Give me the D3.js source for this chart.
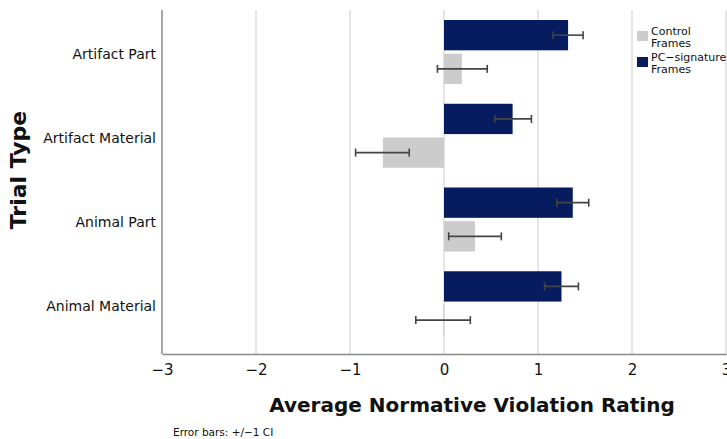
<!DOCTYPE html>
<html>
<head>
<meta charset="utf-8">
<script src="https://cdn.jsdelivr.net/npm/d3@7"></script>
<style>
  body { margin: 0; background: #fff; }
  text { font-family: "DejaVu Sans", sans-serif; fill: #111; }
</style>
</head>
<body>
<div id="chart"></div>
<script>
const categories = ['Artifact Part', 'Artifact Material', 'Animal Part', 'Animal Material'];
const series = ['PC-signature Frames', 'Control Frames'];
const pcMeans = [1.32, 0.73, 1.37, 1.25];
const pcLow = [1.16, 0.54, 1.20, 1.07];
const pcHigh = [1.48, 0.93, 1.54, 1.43];
const ctrlMeans = [0.19, -0.65, 0.33, -0.01];
const ctrlLow = [-0.07, -0.94, 0.05, -0.30];
const ctrlHigh = [0.46, -0.37, 0.61, 0.28];
const xTicks = [-3, -2, -1, 0, 1, 2, 3];

const colors = { 'PC-signature Frames': '#061c5e', 'Control Frames': '#cccccc' };

const rows = [];
categories.forEach((c, i) => {
  rows.push({ cat: c, s: series[0], v: pcMeans[i], lo: pcLow[i], hi: pcHigh[i] });
  rows.push({ cat: c, s: series[1], v: ctrlMeans[i], lo: ctrlLow[i], hi: ctrlHigh[i] });
});

const width = 727, height = 439;
const margin = { top: 10, right: 1, bottom: 85, left: 162 };

const svg = d3.select('#chart').append('svg')
  .attr('width', width)
  .attr('height', height);

const x = d3.scaleLinear().domain([-3, 3]).range([margin.left, width - margin.right]);
const y = d3.scaleBand().domain(categories).range([margin.top, margin.top + 335]);
const yInner = d3.scaleBand().domain(series).range([10, 74]).paddingInner(0.1);
const axisY = height - margin.bottom;

/* gridlines */
svg.append('g')
  .selectAll('line')
  .data(xTicks.filter((d) => d > -3))
  .join('line')
  .attr('x1', (d) => x(d)).attr('x2', (d) => x(d))
  .attr('y1', margin.top).attr('y2', axisY)
  .attr('stroke', '#dcdcdc')
  .attr('stroke-width', 1.5);

/* bars */
svg.append('g')
  .selectAll('rect')
  .data(rows)
  .join('rect')
  .attr('x', (d) => x(Math.min(0, d.v)))
  .attr('width', (d) => Math.abs(x(d.v) - x(0)))
  .attr('y', (d) => y(d.cat) + yInner(d.s))
  .attr('height', yInner.bandwidth())
  .attr('fill', (d) => colors[d.s]);

/* error bars */
const err = svg.append('g').attr('stroke', '#444').attr('stroke-width', 1.6);
rows.forEach((d) => {
  const cy = y(d.cat) + yInner(d.s) + yInner.bandwidth() / 2;
  err.append('line').attr('x1', x(d.lo)).attr('x2', x(d.hi)).attr('y1', cy).attr('y2', cy);
  [d.lo, d.hi].forEach((v) => {
    err.append('line').attr('x1', x(v)).attr('x2', x(v)).attr('y1', cy - 4).attr('y2', cy + 4);
  });
});

/* axes */
const xAxis = d3.axisBottom(x).tickValues(xTicks).tickSize(0).tickPadding(10)
  .tickFormat((d) => d3.format('d')(d).replace('-', '\u2212'));
const gx = svg.append('g').attr('transform', `translate(0,${axisY})`).call(xAxis);
gx.select('.domain').attr('stroke', '#888').attr('stroke-width', 1.5);
gx.selectAll('text').style('font-size', '15px').attr('fill', '#111');

const yAxis = d3.axisLeft(y).tickSize(0).tickPadding(6);
const gy = svg.append('g').attr('transform', `translate(${margin.left},0)`).call(yAxis);
gy.select('.domain').attr('d', `M0,${margin.top}V${axisY}`).attr('stroke', '#888').attr('stroke-width', 1.5);
gy.selectAll('text').style('font-size', '14px').attr('fill', '#111').attr('y', 3);

/* axis titles */
svg.append('text')
  .attr('x', 472).attr('y', 412)
  .attr('text-anchor', 'middle')
  .style('font-size', '20px').style('font-weight', 'bold')
  .text('Average Normative Violation Rating');

svg.append('text')
  .attr('transform', 'translate(26,170)rotate(-90)')
  .attr('text-anchor', 'middle')
  .style('font-size', '22px').style('font-weight', 'bold')
  .text('Trial Type');

svg.append('text')
  .attr('x', 173).attr('y', 436)
  .style('font-size', '10.5px')
  .text('Error bars: +/\u22121 CI');

/* legend */
const legendItems = [
  { s: 'Control Frames', lines: ['Control', 'Frames'], y: 31 },
  { s: 'PC-signature Frames', lines: ['PC\u2212signature', 'Frames'], y: 57 },
];
const lg = svg.append('g');
legendItems.forEach((d) => {
  lg.append('rect').attr('x', 637).attr('y', d.y).attr('width', 11).attr('height', 10).attr('fill', colors[d.s]);
  d.lines.forEach((t, j) => {
    lg.append('text').attr('x', 651).attr('y', d.y + 4 + j * 12)
      .style('font-size', '11px').text(t);
  });
});
</script>
</body>
</html>
